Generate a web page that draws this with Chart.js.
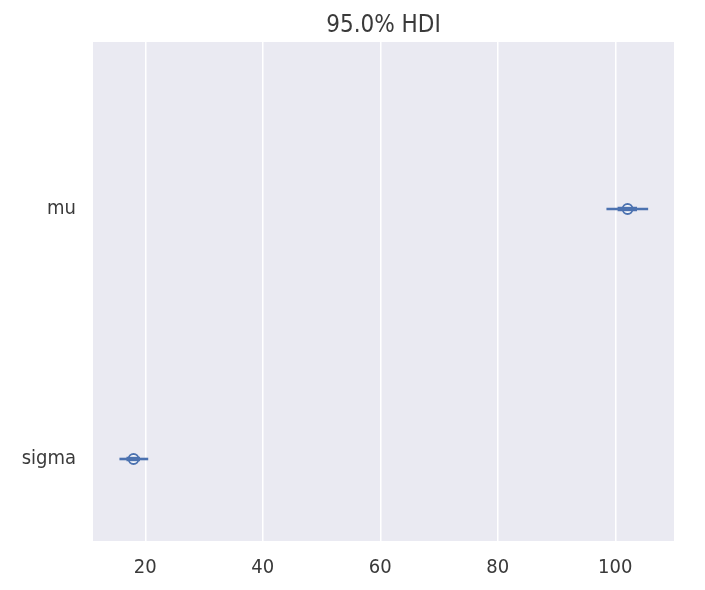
<!DOCTYPE html>
<html>
<head>
<meta charset="utf-8">
<script src="https://cdn.jsdelivr.net/npm/chart.js@4"></script>
<style>
  html, body { margin: 0; padding: 0; background: #fff; }
  #wrap { width: 705px; height: 590px; }
</style>
</head>
<body>
<div id="wrap"><canvas id="forest"></canvas></div>
<script>
// ------
// data
// ------
const params = ['mu', 'sigma'];
const hdiLow = [98.5, 15.6];
const hdiHigh = [105.6, 20.5];
const iqrLow = [100.4, 16.8];
const iqrHigh = [103.7, 19.1];
const means = [102.1, 18.0];
const xTicks = [20, 40, 60, 80, 100];
const titleText = '95.0% HDI';

const blue = '#4C72B0';
const textColor = '#3a3a3a';
const fontFamily = "'DejaVu Sans Condensed', 'DejaVu Sans', sans-serif";

// row position: first param on top
const rowY = (i) => params.length - 1 - i;

const datasets = [];
params.forEach((p, i) => {
  datasets.push({
    label: p + ' hdi',
    data: [{ x: hdiLow[i], y: rowY(i) }, { x: hdiHigh[i], y: rowY(i) }],
    showLine: true,
    borderColor: blue,
    borderWidth: 2.6,
    pointRadius: 0,
  });
  datasets.push({
    label: p + ' 50%',
    data: [{ x: iqrLow[i], y: rowY(i) }, { x: iqrHigh[i], y: rowY(i) }],
    showLine: true,
    borderColor: blue,
    borderWidth: 4.5,
    pointRadius: 0,
  });
});
datasets.push({
  label: 'mean',
  data: means.map((m, i) => ({ x: m, y: rowY(i) })),
  showLine: false,
  pointRadius: 5,
  pointBackgroundColor: '#ffffff',
  pointBorderColor: blue,
  pointBorderWidth: 1.8,
});

// plot background like seaborn darkgrid, title centred over the axes
const plotBg = {
  id: 'plotBg',
  beforeDraw(chart) {
    const { ctx, chartArea: a } = chart;
    ctx.save();
    ctx.fillStyle = '#EAEAF2';
    ctx.fillRect(a.left, a.top, a.right - a.left, a.bottom - a.top);
    ctx.restore();
  },
  afterDraw(chart) {
    const { ctx, chartArea: a } = chart;
    ctx.save();
    ctx.fillStyle = textColor;
    ctx.font = '24px ' + fontFamily;
    ctx.textAlign = 'center';
    ctx.textBaseline = 'middle';
    ctx.fillText(titleText, (a.left + a.right) / 2, 26);
    ctx.restore();
  },
};

const forest = document.getElementById('forest');
new Chart(forest, {
  type: 'scatter',
  data: { datasets },
  plugins: [plotBg],
  options: {
    responsive: true,
    maintainAspectRatio: false,
    animation: false,
    layout: { padding: { left: 0, right: 31, top: 42, bottom: 0 } },
    plugins: {
      legend: { display: false },
      tooltip: { enabled: false },
      title: { display: false },
    },
    scales: {
      x: {
        type: 'linear',
        min: 11.1,
        max: 110,
        afterBuildTicks: (s) => { s.ticks = xTicks.map((v) => ({ value: v })); },
        afterFit: (s) => { s.height = 49; },
        border: { display: false },
        grid: { color: '#ffffff', lineWidth: 1.5, drawTicks: false },
        ticks: {
          color: textColor,
          padding: 15,
          font: { family: fontFamily, size: 20 },
        },
      },
      y: {
        type: 'linear',
        min: -0.328,
        max: 1.668,
        afterBuildTicks: (s) => { s.ticks = params.map((p, i) => ({ value: rowY(i) })); },
        afterFit: (s) => { s.width = 93; },
        border: { display: false },
        grid: { display: false, drawTicks: false },
        ticks: {
          color: textColor,
          padding: 17,
          font: { family: fontFamily, size: 20 },
          callback: (v) => params[params.length - 1 - v],
        },
      },
    },
  },
});
</script>
</body>
</html>
